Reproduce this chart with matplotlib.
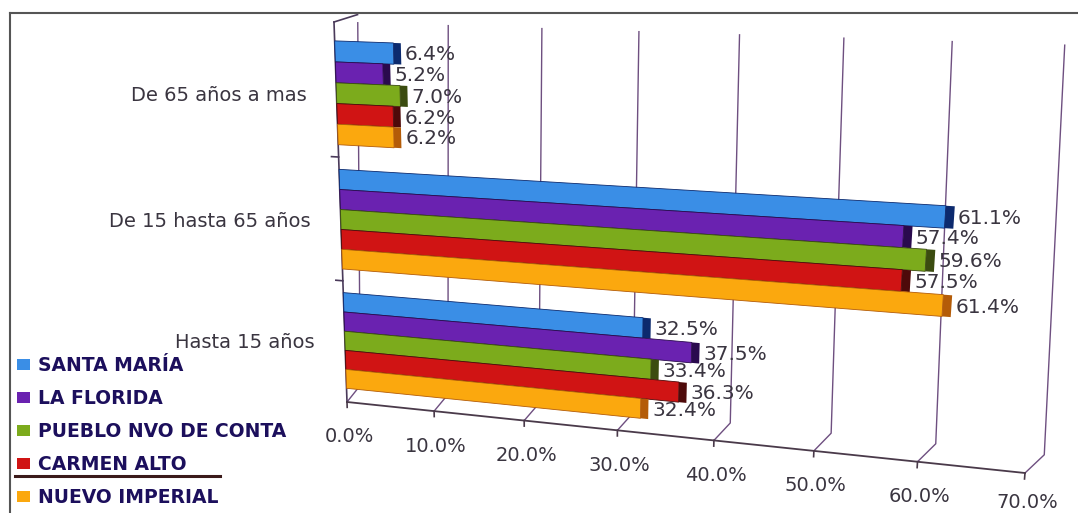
import numpy as np
import matplotlib
matplotlib.use("Agg")
import matplotlib.pyplot as plt
from matplotlib.transforms import Transform, Affine2D
from matplotlib.lines import Line2D

grupos = ["Hasta 15 años", "De 15 hasta 65 años", "De 65 años a mas"]
distritos = ["SANTA MARÍA", "LA FLORIDA", "PUEBLO NVO DE CONTA", "CARMEN ALTO", "NUEVO IMPERIAL"]
santa_maria = [32.5, 61.1, 6.4]
la_florida = [37.5, 57.4, 5.2]
pueblo_nvo = [33.4, 59.6, 7.0]
carmen_alto = [36.3, 57.5, 6.2]
nuevo_imperial = [32.4, 61.4, 6.2]
ticks_x = [0, 10, 20, 30, 40, 50, 60, 70]

colores = ["#3a8ee6", "#6a22b0", "#7cab1c", "#d01414", "#fba80e"]
oscuros = ["#0c2a6e", "#2a0a4e", "#3b4c10", "#4e0a0a", "#b45c08"]

W, H = 1078, 513


def homografia(src, dst):
    A, b = [], []
    for (u, v), (X, Y) in zip(src, dst):
        A.append([u, v, 1, 0, 0, 0, -u * X, -v * X]); b.append(X)
        A.append([0, 0, 0, u, v, 1, -u * Y, -v * Y]); b.append(Y)
    h = np.linalg.solve(np.array(A, float), np.array(b, float))
    return np.append(h, 1).reshape(3, 3)


class Persp(Transform):
    # unit square -> pixels, fake 3d perspective
    input_dims = 2
    output_dims = 2
    is_separable = False
    has_inverse = False

    def __init__(self, M):
        super().__init__()
        self.M = M

    def transform_non_affine(self, pts):
        pts = np.asarray(pts, float).reshape(-1, 2)
        p = np.column_stack([pts, np.ones(len(pts))]) @ self.M.T
        return p[:, :2] / p[:, 2:3]


esquinas = [(0, 0), (1, 0), (0, 1), (1, 1)]
pix = [(347, 402), (1025, 473), (334, 22), (1060, 45)]
P = Persp(homografia(esquinas, [(x, H - y) for x, y in pix]))

fig = plt.figure(figsize=(W / 100, H / 100), dpi=100)
ax = fig.add_axes([0, 0, 1, 1])
ax.axis("off")
ax.set_autoscale_on(False)
ax.set_xlim(0, 70)
ax.set_ylim(-0.52, 2.546)

front = ax.transScale + ax.transLimits + P
unit = Affine2D().scale(1 / 70.0, 1) + P

txt = "#3a3540"
grid_c = "#6e4f80"

# gridlines (back wall + floor kink)
for x in ticks_x:
    dx_top = 2.6 - 2.2 * x / 70
    ax.plot([x, x + 1.6, x + dx_top], [0, 0.05, 1.0], transform=unit,
            color=grid_c, lw=1, zorder=1)

# axes
ax.plot([0, 0], [0, 1], transform=unit, color="#4a3a5a", lw=1.2, zorder=2)
ax.plot([0, 2.6], [1, 1.02], transform=unit, color="#4a3a5a", lw=1.2, zorder=1)
ax.plot([0, 70], [0, 0], transform=unit, color="#4a3a4a", lw=1.3, zorder=2)
for y in [0.5, 1.5]:
    ax.plot([-0.8, 0], [y, y], transform=front, color="#4a3a5a", lw=1.2)
for x in ticks_x:
    ax.plot([x, x], [0, -0.015], transform=unit, color="#4a3a4a", lw=1.2)
    dy = -35 if x < 70 else -30
    ax.annotate(f"{x:.1f}%", (x, 0), xycoords=unit, xytext=(2, dy),
                textcoords="offset pixels", ha="center", va="center",
                fontsize=14, color=txt)

for k, g in enumerate(grupos):
    ax.annotate(g, (0, k), xycoords=front, xytext=(-30, -2),
                textcoords="offset pixels", ha="right", va="center",
                fontsize=14, color=txt)

series = [santa_maria, la_florida, pueblo_nvo, carmen_alto, nuevo_imperial]
h = 0.161
handles = []
for i, vals in enumerate(series):
    y = np.arange(len(grupos)) + (2 - i) * h
    b = ax.barh(y, vals, height=h, color=colores[i], edgecolor=oscuros[i],
                linewidth=0.6, transform=front, zorder=3, label=distritos[i])
    ax.barh(y, 0.8, left=vals, height=h, color=oscuros[i], transform=front,
            zorder=3)
    handles.append(b)
    for v, yy in zip(vals, y):
        ax.annotate(f"{v:.1f}%", (v + 0.8, yy), xycoords=front, xytext=(4, -1),
                    textcoords="offset pixels", ha="left", va="center",
                    fontsize=14.5, color=txt, zorder=5)

leg = fig.legend(handles=handles, labels=distritos, loc="upper left",
                 bbox_to_anchor=(8 / W, 1 - 347 / H), frameon=False,
                 borderpad=0, handlelength=0.65, handleheight=0.55,
                 handletextpad=0.45, labelspacing=0.74,
                 prop={"weight": "bold", "size": 13.5}, labelcolor="#1c0f5c")
for hd in leg.legend_handles:
    hd.set_edgecolor("none")

# frame and scan line
fig.add_artist(Line2D([10 / W, 1], [1 - 13 / H] * 2, color="#555555", lw=1.5))
fig.add_artist(Line2D([10 / W] * 2, [0, 1 - 13 / H], color="#555555", lw=1.5))
fig.add_artist(Line2D([15 / W, 220 / W], [1 - 476 / H] * 2, color="#3b1a1a", lw=2.2))

fig.savefig("out.png", dpi=100)
